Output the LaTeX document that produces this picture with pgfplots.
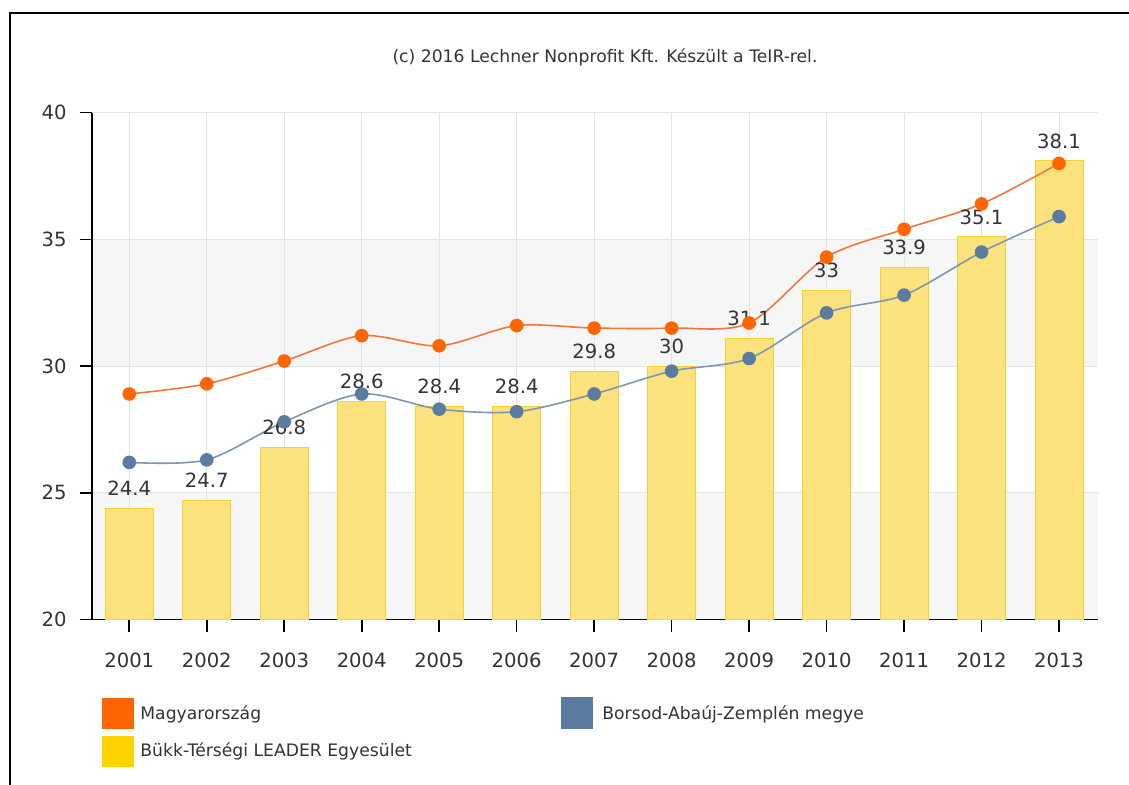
\documentclass[border=0pt]{standalone}
\usepackage{fontspec}
\setmainfont{DejaVu Sans}
\usepackage{pgfplots}
\pgfplotsset{compat=1.18}
\definecolor{mOrange}{HTML}{FF6600}
\definecolor{lOrange}{HTML}{F2763E}
\definecolor{mBlue}{HTML}{5B7BA0}
\definecolor{lBlue}{HTML}{8096B0}
\definecolor{barFill}{HTML}{FBE27D}
\definecolor{barDraw}{HTML}{F3D233}
\definecolor{legYellow}{HTML}{FFD200}
\definecolor{band}{HTML}{F6F6F6}
\definecolor{gridc}{HTML}{E3E3E3}
\definecolor{txt}{HTML}{333333}
\begin{document}
\begin{tikzpicture}
\draw[line width=1pt] (4.75pt,-392.5pt) -- (4.75pt,-6.5pt) -- (564.5pt,-6.5pt);
\node[font=\fontsize{8.6}{10}\selectfont, text=txt] at (302.5pt,-28.5pt) {(c) 2016 Lechner Nonprofit Kft. Készült a TeIR-rel.};
\begin{axis}[
  set layers=standard,
  scale only axis, width=503.15pt, height=253.4pt,
  at={(45.85pt,-309.75pt)}, anchor=south west,
  xmin=-0.485, xmax=12.503, ymin=20, ymax=40,
  xtick={0,...,12},
  xticklabels={2001,2002,2003,2004,2005,2006,2007,2008,2009,2010,2011,2012,2013},
  ytick={20,25,30,35,40},
  axis x line*=bottom, axis y line*=left,
  axis line style={-, black, line width=0.8pt},
  tick align=outside, major tick length=6pt,
  tick style={black, line width=0.8pt},
  grid=major, grid style={gridc, line width=0.5pt},
  /pgf/number format/assume math mode=true,
  ticklabel style={font=\fontsize{9.8}{11}\selectfont, text=txt},
  xticklabel style={yshift=-7pt},
  yticklabel style={xshift=-3pt},
  clip=false,
]
\addplot[draw=none, fill=band, on layer=axis background, forget plot]
  coordinates {(-0.485,20) (12.503,20) (12.503,25) (-0.485,25)} -- cycle;
\addplot[draw=none, fill=band, on layer=axis background, forget plot]
  coordinates {(-0.485,30) (12.503,30) (12.503,35) (-0.485,35)} -- cycle;
\addplot[ybar, bar width=24pt, fill=barFill, draw=barDraw, line width=0.5pt,
  nodes near coords, every node near coord/.append style={font=\fontsize{9.8}{11}\selectfont, text=txt, inner sep=0pt, yshift=6pt, anchor=south}]
  coordinates {(0,24.4) (1,24.7) (2,26.8) (3,28.6) (4,28.4) (5,28.4) (6,29.8) (7,30) (8,31.1) (9,33) (10,33.9) (11,35.1) (12,38.1)};
\addplot[lOrange, line width=0.8pt, smooth, tension=0.5, mark=*, mark size=3pt, mark options={fill=mOrange, draw=mOrange}]
  coordinates {(0,28.9) (1,29.3) (2,30.2) (3,31.2) (4,30.8) (5,31.6) (6,31.5) (7,31.5) (8,31.7) (9,34.3) (10,35.4) (11,36.4) (12,38.0)};
\addplot[lBlue, line width=0.8pt, smooth, tension=0.5, mark=*, mark size=3pt, mark options={fill=mBlue, draw=mBlue}]
  coordinates {(0,26.2) (1,26.3) (2,27.8) (3,28.9) (4,28.3) (5,28.2) (6,28.9) (7,29.8) (8,30.3) (9,32.1) (10,32.8) (11,34.5) (12,35.9)};
\end{axis}
\fill[mOrange] (51pt,-349pt) rectangle ++(16pt,-15.5pt);
\fill[legYellow] (51pt,-368pt) rectangle ++(16pt,-15.5pt);
\fill[mBlue] (280.5pt,-348.5pt) rectangle ++(16pt,-16pt);
\begin{scope}[every node/.style={font=\fontsize{8.6}{10}\selectfont, text=txt, anchor=west, inner sep=0pt}]
\node at (70pt,-357pt) {Magyarország};
\node at (70pt,-375.5pt) {Bükk-Térségi LEADER Egyesület};
\node at (301pt,-357pt) {Borsod-Abaúj-Zemplén megye};
\end{scope}
\pgfresetboundingbox
\useasboundingbox (0,0) rectangle (564.5pt,-392.5pt);
\end{tikzpicture}
\end{document}
